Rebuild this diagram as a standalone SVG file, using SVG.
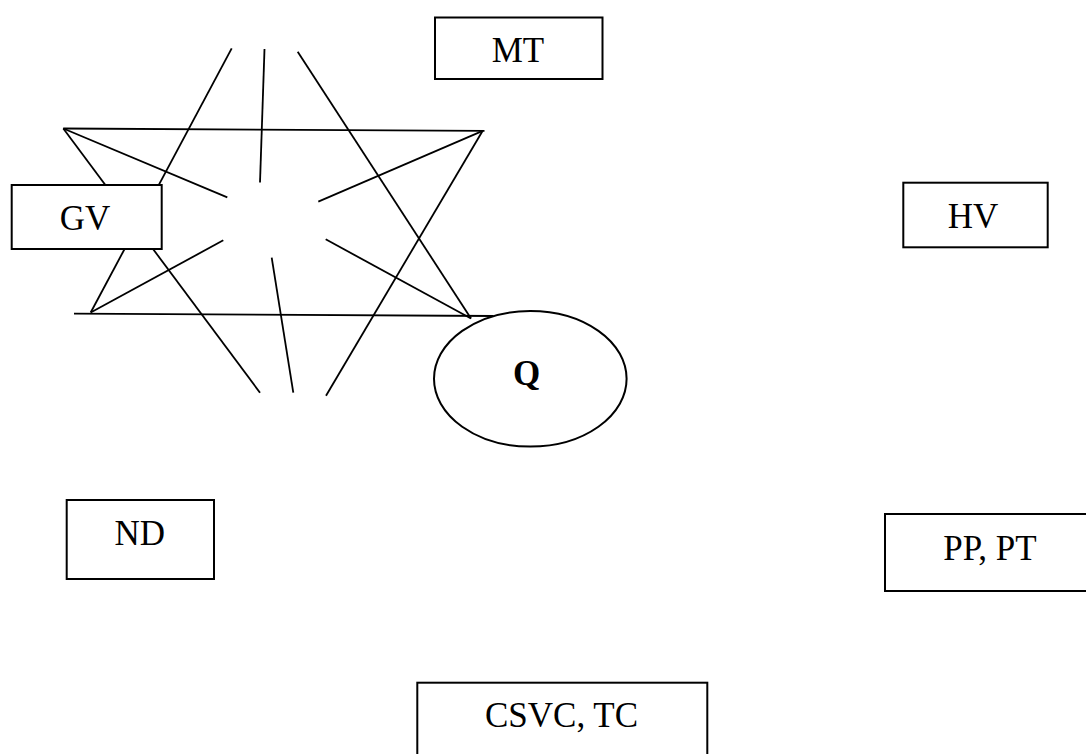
<svg xmlns="http://www.w3.org/2000/svg" width="1086" height="754" viewBox="0 0 1086 754">
  <style>
    .ln { stroke: #000; stroke-width: 1.8; fill: none; stroke-linecap: butt; }
    .box { fill: #fff; stroke: #000; stroke-width: 2; }
    .lbl { font-family: "Liberation Serif", "Times New Roman", serif; font-size: 35px; fill: #000; text-anchor: middle; }
    .bold { font-weight: bold; }
  </style>
  <rect width="1086" height="754" fill="#fff"/>

  <!-- star figure -->
  <g id="connectors">
    <line class="ln" x1="63.3" y1="128.5" x2="484.5" y2="130.8"/>
    <line class="ln" x1="74" y1="313.7" x2="493.5" y2="316"/>
    <line class="ln" x1="231.7" y1="48.3" x2="90.7" y2="312.5"/>
    <line class="ln" x1="264.5" y1="49" x2="260" y2="182.5"/>
    <line class="ln" x1="297.7" y1="51.7" x2="471" y2="318.5"/>
    <line class="ln" x1="63.3" y1="128.5" x2="260" y2="392.7"/>
    <line class="ln" x1="63.3" y1="128.5" x2="227.3" y2="197.3"/>
    <line class="ln" x1="482.7" y1="130.8" x2="318.3" y2="201.7"/>
    <line class="ln" x1="482.7" y1="130.8" x2="326" y2="395.7"/>
    <line class="ln" x1="90.7" y1="312.5" x2="223.3" y2="240.3"/>
    <line class="ln" x1="471" y1="318.5" x2="325.7" y2="239.3"/>
    <line class="ln" x1="271.7" y1="257.7" x2="293.3" y2="392.7"/>
  </g>

  <g id="node-mt">
    <rect class="box" x="435" y="17.5" width="167.5" height="61.5"/>
    <text class="lbl" x="518" y="61.5">MT</text>
  </g>

  <g id="node-gv">
    <rect class="box" x="11.7" y="185" width="150" height="64"/>
    <text class="lbl" x="85" y="230">GV</text>
  </g>

  <g id="node-hv">
    <rect class="box" x="903.3" y="182.7" width="144.4" height="64.6"/>
    <text class="lbl" x="973" y="228.3">HV</text>
  </g>

  <g id="node-q">
    <ellipse class="box" cx="530.3" cy="378.8" rx="96.3" ry="67.8"/>
    <text class="lbl bold" x="526.7" y="384.5">Q</text>
  </g>

  <g id="node-nd">
    <rect class="box" x="66.7" y="500" width="147.3" height="79"/>
    <text class="lbl" x="139.7" y="545">ND</text>
  </g>

  <g id="node-pp-pt">
    <rect class="box" x="885" y="514" width="220" height="77"/>
    <text class="lbl" x="990" y="560">PP, PT</text>
  </g>

  <g id="node-csvc-tc">
    <rect class="box" x="417.3" y="682.7" width="290" height="100"/>
    <text class="lbl" x="561.5" y="726.7">CSVC, TC</text>
  </g>
</svg>
